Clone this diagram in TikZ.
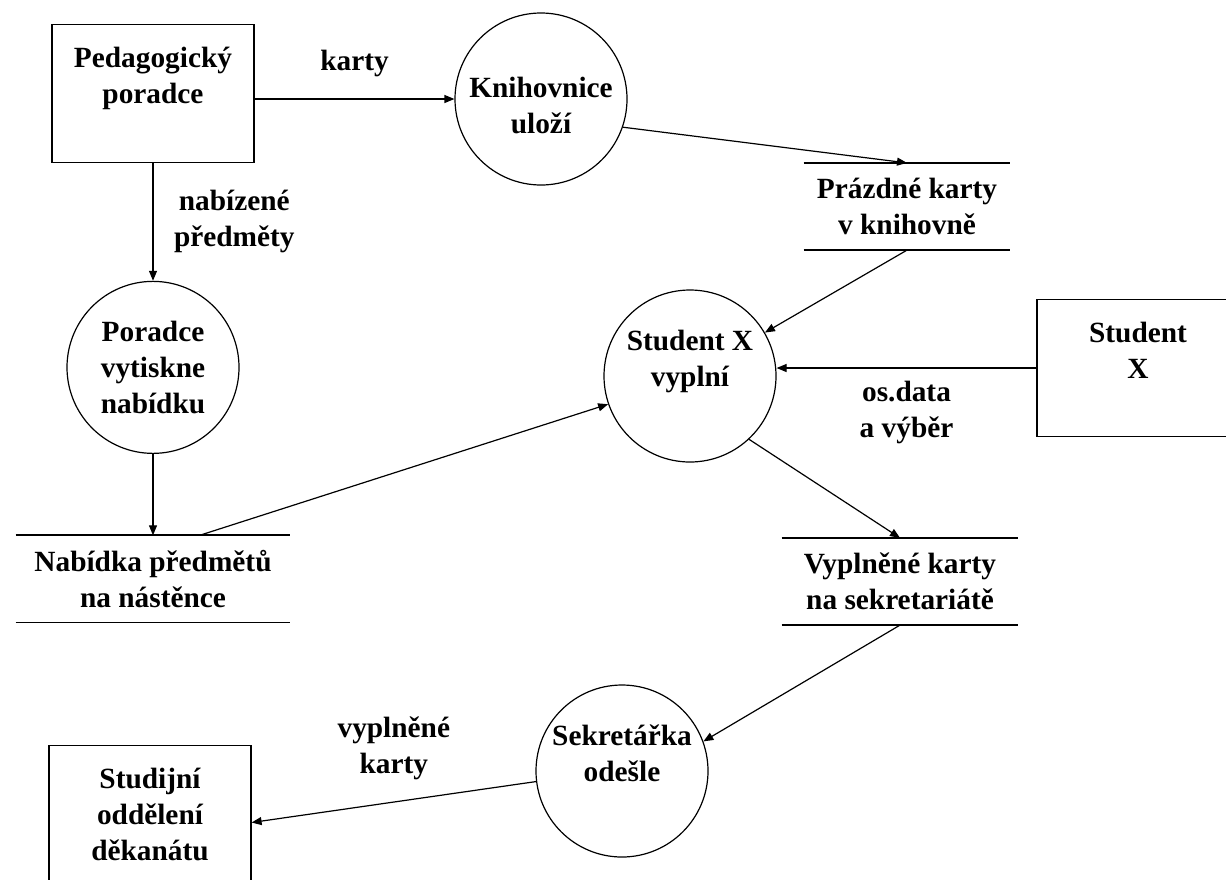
\documentclass[tikz,border=0pt]{standalone}
\usepackage{fontspec}
\setmainfont{Liberation Serif}
\usetikzlibrary{arrows.meta,positioning}

\begin{document}
\begin{tikzpicture}[
  x=0.75pt,y=-0.75pt,
  every node/.style={font=\fontsize{22}{27}\selectfont\bfseries,align=center},
  ext/.style={draw,line width=0.9pt,minimum width=151.5pt,minimum height=103pt},
  proc/.style={circle,draw,line width=0.9pt,minimum size=129pt,inner sep=0pt},
  store/.style={minimum height=65pt,inner sep=0pt},
  arr/.style={-{Triangle[length=7.5pt,width=6pt]},line width=0.9pt},
  sline/.style={line width=1.4pt}
]
\useasboundingbox (0,0) rectangle (1226,879);
\node[ext] (pedag) at (153,93.5) {Pedagogický\\poradce\\~};
\node[ext] (student) at (1138,368) {Student\\X\\~};
\node[ext] (studijni) at (150,814.5) {Studijní\\oddělení\\děkanátu};
\node[proc] (knih) at (541,99) {\rule{0pt}{25pt}Knihovnice\\uloží};
\node[proc,below=88.5pt of pedag] (poradce) {Poradce\\vytiskne\\nabídku};
\node[proc] (studentvyp) at (690,376) {Student X\\vyplní\\~};
\node[proc] (sekr) at (622,771) {Sekretářka\\odešle\\~};
\node[store,minimum width=154.5pt] (prazdne) at (907,206.5) {Prázdné karty\\v knihovně};
\node[store,minimum width=205.5pt,below=61pt of poradce] (nabidka) {Nabídka předmětů\\na nástěnce};
\node[store,minimum width=177pt] (vypl) at (900,581.5) {Vyplněné karty\\na sekretariátě};

\foreach \s in {prazdne,nabidka,vypl}{
  \draw[sline] (\s.north west) -- (\s.north east);
  \draw[sline] (\s.south west) -- (\s.south east);
}

\draw[arr] (pedag.east |- knih) -- (knih) node[midway,above=13pt] {karty};
\draw[arr] (pedag) -- (poradce) node[midway,right=12pt] {nabízené\\předměty};
\draw[arr] (knih.-19) -- (prazdne.north);
\draw[arr] (prazdne.south) -- (studentvyp);
\draw[arr] (student.west) -- (student.west -| studentvyp.east) node[midway,below=6pt] {os.data\\a výběr};
\draw[arr] (poradce) -- (nabidka);
\draw[arr] ([xshift=35pt]nabidka.north) -- (studentvyp.199);
\draw[arr] (studentvyp.-47) -- (vypl.north);
\draw[arr] (vypl.south) -- (sekr.20);
\draw[arr] (sekr.187) -- ([yshift=-6pt]studijni.east) node[midway,above=13pt] {vyplněné\\karty};
\end{tikzpicture}
\end{document}
